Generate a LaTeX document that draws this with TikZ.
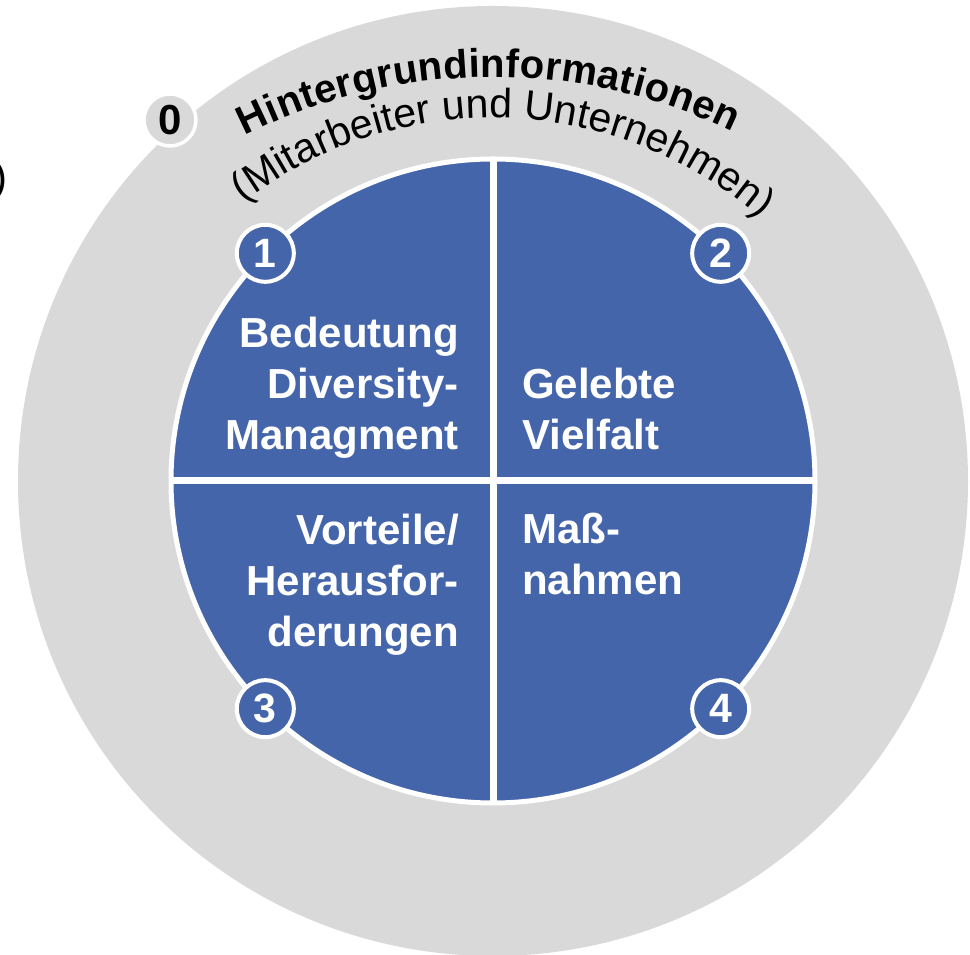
\documentclass[tikz,border=0pt]{standalone}
\usepackage{fontspec}
\setmainfont{Liberation Sans}
\usetikzlibrary{decorations.text}
\definecolor{ringgray}{HTML}{D9D9D9}
\definecolor{quadblue}{HTML}{4565AB}
\begin{document}
\begin{tikzpicture}[x=1pt,y=1pt,
  badge/.style={circle,draw=white,line width=4pt,fill=quadblue,text=white,
    minimum size=57pt,inner sep=0pt,font=\bfseries\fontsize{41}{41}\selectfont},
  quadtext/.style={text=white,inner sep=0pt,font=\bfseries\fontsize{42}{51}\selectfont}]
\useasboundingbox (0,0) rectangle (970,955);
\node[circle,fill=ringgray,minimum size=950pt,inner sep=0pt,outer sep=0pt] (outer) at (493,474) {};
\node[anchor=base east,inner sep=0pt,font=\fontsize{42}{42}\selectfont] (cutparen) at (8,763) {)};
\node[circle,fill=ringgray,draw=white,line width=3.5pt,minimum size=52pt,inner sep=0pt,
  font=\bfseries\fontsize{42}{42}\selectfont] (n0) at (170,835) {0};
\coordinate (boldc) at (493,328);
\coordinate (thinc) at (493,427);
\path[decorate,decoration={text along path,text align=fit to path,
  text={|\bfseries\fontsize{40}{40}\selectfont|Hintergrundinformationen}}]
  ([shift={(116.8:550)}]boldc) arc[start angle=116.8,end angle=64.2,radius=550];
\path[decorate,decoration={text along path,text align=fit to path,
  text={|\fontsize{41}{41}\selectfont|(Mitarbeiter und Unternehmen)}}]
  ([shift={(127.5:410)}]thinc) arc[start angle=127.5,end angle=49.2,radius=410];
\node[circle,fill=quadblue,draw=white,line width=5pt,minimum size=644pt,inner sep=0pt,outer sep=0pt] (inner) at (493,474) {};
\draw[white,line width=7pt] (inner.north) -- (inner.south);
\draw[white,line width=7pt] (inner.west) -- (inner.east);
\node[quadtext,align=right,anchor=base east] (q1) at (459,505) {Bedeutung\\Diversity-\\Managment};
\node[quadtext,align=left,anchor=base west] (q2) at (522,505) {Gelebte\\Vielfalt};
\node[quadtext,align=right,anchor=base east] (q3) at (459,308) {Vorteile/\\Herausfor-\\derungen};
\node[quadtext,align=left,anchor=base west] (q4) at (522,360) {Maß-\\nahmen};
\node[badge] (n1) at (inner.135) {1};
\node[badge] (n2) at (inner.45) {2};
\node[badge] (n3) at (inner.225) {3};
\node[badge] (n4) at (inner.315) {4};
\end{tikzpicture}
\end{document}
